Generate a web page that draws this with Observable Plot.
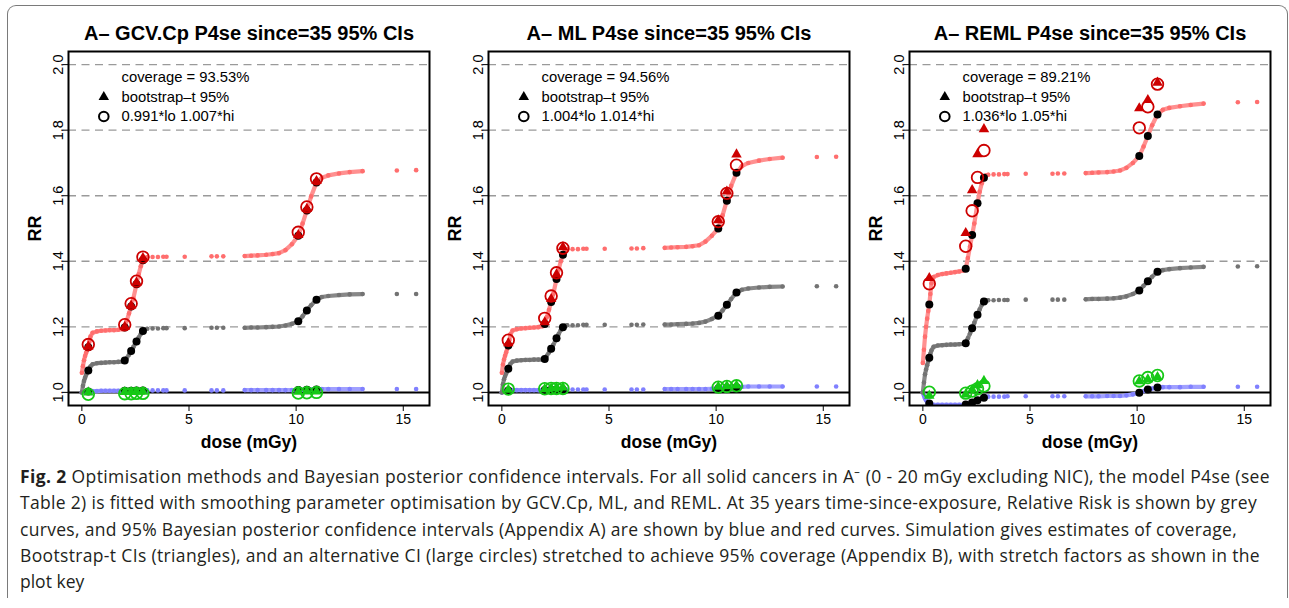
<!DOCTYPE html>
<html>
<head>
<meta charset="utf-8">
<script src="https://cdn.jsdelivr.net/npm/d3@7"></script>
<script src="https://cdn.jsdelivr.net/npm/@observablehq/plot@0.6"></script>
<style>
  html, body { margin: 0; padding: 0; background: #fff; }
  body { width: 1289px; height: 608px; overflow: hidden; position: relative; }
  #box { position: absolute; left: 7px; top: 5px; width: 1281px; height: 593px;
         border: 1px solid #7a7a7a; border-bottom: none; border-radius: 9px 9px 0 0; box-sizing: border-box; }
  .panel { position: absolute; top: 0; }
  #caption { position: absolute; left: 20px; top: 463px; font-family: "Open Sans", sans-serif;
             font-size: 17.5px; line-height: 26.3px; color: #231f20; white-space: nowrap; }
  #caption div { display: block; width: max-content; }
  #caption b { font-weight: 700; }
</style>
</head>
<body>
<div id="box"></div>
<div id="panels"></div>
<div id="caption"></div>
<script>
// Smoothing-parameter optimisation methods, one panel each
const methods = ["GCV.Cp", "ML", "REML"];
const coverage = [93.53, 94.56, 89.21];
const stretchLo = [0.991, 1.004, 1.036];
const stretchHi = [1.007, 1.014, 1.05];

// Cohort doses (mGy) at which the fitted curves are evaluated
const dose = [0, 0.05, 0.1, 0.15, 0.2, 0.25, 0.3, 0.35, 0.4, 0.5, 0.7, 0.9, 1.1, 1.3, 1.5, 1.7, 1.9, 2.0,
  2.1, 2.2, 2.3, 2.4, 2.55, 2.65, 2.75, 2.85, 2.95, 3.05, 3.3, 3.55, 3.8, 3.95, 4.8, 6.05, 6.3, 6.6,
  7.6, 7.9, 8.2, 8.6, 8.9, 9.2, 9.5, 9.8, 10.1, 10.3, 10.5, 10.7, 10.95, 11.2, 11.5, 12.0, 12.5, 13.1,
  14.7, 15.6];
// Dose ranges where the cohort is dense enough for the points to form a continuous curve
const denseRanges = [[0, 3.05], [7.6, 13.1]];
// Doses where simulated intervals were evaluated
const keyDose = [0.3, 2.0, 2.3, 2.55, 2.85, 10.1, 10.5, 10.95];

// GCV.Cp: relative risk, upper and lower 95% Bayesian limits
const rrGCV = [1.000, 1.020, 1.035, 1.045, 1.054, 1.061, 1.067, 1.073, 1.079, 1.086, 1.089, 1.090, 1.091, 1.092, 1.092, 1.093, 1.094, 1.097,
  1.105, 1.115, 1.126, 1.138, 1.155, 1.167, 1.178, 1.187, 1.192, 1.194, 1.195, 1.195, 1.196, 1.196, 1.196, 1.197, 1.197, 1.197,
  1.197, 1.198, 1.198, 1.199, 1.200, 1.201, 1.204, 1.209, 1.217, 1.232, 1.250, 1.266, 1.283, 1.291, 1.294, 1.297, 1.299, 1.300,
  1.300, 1.300];
const hiGCV = [1.060, 1.080, 1.098, 1.111, 1.121, 1.130, 1.138, 1.155, 1.170, 1.182, 1.186, 1.188, 1.189, 1.190, 1.190, 1.191, 1.193, 1.198,
  1.220, 1.241, 1.262, 1.286, 1.330, 1.360, 1.385, 1.403, 1.410, 1.412, 1.413, 1.413, 1.414, 1.414, 1.414, 1.415, 1.415, 1.415,
  1.416, 1.417, 1.418, 1.420, 1.422, 1.425, 1.434, 1.452, 1.478, 1.515, 1.555, 1.598, 1.640, 1.655, 1.662, 1.668, 1.672, 1.675,
  1.677, 1.678];
const loGCV = [1.000, 1.001, 1.002, 1.002, 1.003, 1.003, 1.003, 1.004, 1.004, 1.004, 1.004, 1.005, 1.005, 1.005, 1.005, 1.005, 1.005, 1.005,
  1.005, 1.005, 1.005, 1.006, 1.006, 1.006, 1.006, 1.006, 1.006, 1.006, 1.006, 1.006, 1.006, 1.006, 1.006, 1.006, 1.006, 1.006,
  1.007, 1.007, 1.007, 1.007, 1.007, 1.007, 1.007, 1.007, 1.007, 1.008, 1.008, 1.009, 1.009, 1.010, 1.010, 1.010, 1.010, 1.010,
  1.010, 1.010];
const bootHiGCV = [1.140, 1.200, 1.265, 1.335, 1.410, 1.480, 1.560, 1.645];
const bootLoGCV = [1.000, 1.001, 1.001, 1.002, 1.002, 1.002, 1.003, 1.003];

// ML
const rrML = [1.000, 1.025, 1.040, 1.050, 1.058, 1.066, 1.072, 1.080, 1.087, 1.094, 1.097, 1.098, 1.099, 1.099, 1.100, 1.100, 1.100, 1.102,
  1.112, 1.122, 1.133, 1.145, 1.165, 1.178, 1.190, 1.199, 1.203, 1.205, 1.205, 1.205, 1.206, 1.206, 1.206, 1.206, 1.206, 1.207,
  1.207, 1.207, 1.208, 1.209, 1.210, 1.212, 1.216, 1.224, 1.234, 1.250, 1.267, 1.285, 1.305, 1.313, 1.317, 1.320, 1.322, 1.323,
  1.324, 1.324];
const hiML = [1.060, 1.085, 1.100, 1.112, 1.122, 1.133, 1.143, 1.160, 1.177, 1.189, 1.193, 1.195, 1.196, 1.197, 1.198, 1.199, 1.202, 1.209,
  1.230, 1.252, 1.276, 1.300, 1.346, 1.375, 1.400, 1.420, 1.433, 1.437, 1.437, 1.437, 1.438, 1.438, 1.438, 1.439, 1.439, 1.440,
  1.441, 1.442, 1.443, 1.444, 1.446, 1.449, 1.460, 1.478, 1.500, 1.540, 1.585, 1.630, 1.670, 1.690, 1.700, 1.707, 1.712, 1.716,
  1.718, 1.719];
const loML = [1.000, 1.002, 1.003, 1.004, 1.005, 1.005, 1.006, 1.006, 1.007, 1.007, 1.007, 1.007, 1.007, 1.007, 1.007, 1.007, 1.007, 1.007,
  1.008, 1.008, 1.008, 1.008, 1.008, 1.008, 1.008, 1.008, 1.008, 1.008, 1.009, 1.009, 1.009, 1.009, 1.009, 1.009, 1.009, 1.009,
  1.010, 1.010, 1.010, 1.010, 1.010, 1.010, 1.010, 1.011, 1.012, 1.013, 1.014, 1.015, 1.016, 1.017, 1.018, 1.018, 1.018, 1.018,
  1.018, 1.018];
const bootHiML = [1.150, 1.214, 1.285, 1.360, 1.443, 1.525, 1.613, 1.726];
const bootLoML = [1.008, 1.010, 1.012, 1.014, 1.015, 1.017, 1.019, 1.021];

// REML
const rrREML = [1.000, 1.030, 1.055, 1.070, 1.083, 1.095, 1.106, 1.118, 1.128, 1.139, 1.143, 1.144, 1.145, 1.146, 1.146, 1.147, 1.148, 1.150,
  1.165, 1.180, 1.196, 1.212, 1.237, 1.253, 1.267, 1.277, 1.280, 1.281, 1.281, 1.282, 1.282, 1.282, 1.283, 1.283, 1.283, 1.283,
  1.284, 1.285, 1.285, 1.286, 1.287, 1.289, 1.293, 1.300, 1.311, 1.325, 1.339, 1.353, 1.368, 1.373, 1.376, 1.379, 1.381, 1.383,
  1.384, 1.385];
const hiREML = [1.090, 1.130, 1.170, 1.200, 1.225, 1.248, 1.268, 1.300, 1.333, 1.352, 1.358, 1.361, 1.363, 1.365, 1.367, 1.369, 1.372, 1.377,
  1.410, 1.445, 1.480, 1.515, 1.577, 1.612, 1.638, 1.655, 1.662, 1.664, 1.665, 1.665, 1.666, 1.666, 1.667, 1.667, 1.668, 1.668,
  1.669, 1.670, 1.671, 1.672, 1.674, 1.677, 1.685, 1.700, 1.721, 1.750, 1.782, 1.815, 1.848, 1.862, 1.868, 1.873, 1.877, 1.881,
  1.885, 1.886];
const loREML = [1.000, 0.990, 0.982, 0.976, 0.971, 0.968, 0.966, 0.964, 0.963, 0.962, 0.962, 0.962, 0.962, 0.962, 0.962, 0.962, 0.962, 0.963,
  0.965, 0.967, 0.969, 0.972, 0.976, 0.979, 0.982, 0.984, 0.986, 0.987, 0.987, 0.987, 0.987, 0.988, 0.988, 0.988, 0.988, 0.988,
  0.988, 0.988, 0.988, 0.989, 0.989, 0.989, 0.991, 0.994, 0.999, 1.004, 1.009, 1.012, 1.015, 1.016, 1.016, 1.016, 1.017, 1.017,
  1.017, 1.017];
const bootHiREML = [1.349, 1.486, 1.617, 1.727, 1.803, 1.867, 1.892, 1.945];
const bootLoREML = [0.990, 0.994, 1.008, 1.022, 1.035, 1.034, 1.040, 1.047];

const xTicks = [0, 5, 10, 15];
const yTicks = [1.0, 1.2, 1.4, 1.6, 1.8, 2.0];
const yGrid = [1.2, 1.4, 1.6, 1.8, 2.0];

const captionLabel = "Fig. 2";
const captionLines = [
  "Optimisation methods and Bayesian posterior confidence intervals. For all solid cancers in A\u207B (0 - 20 mGy excluding NIC), the model P4se (see",
  "Table 2) is fitted with smoothing parameter optimisation by GCV.Cp, ML, and REML. At 35 years time-since-exposure, Relative Risk is shown by grey",
  "curves, and 95% Bayesian posterior confidence intervals (Appendix A) are shown by blue and red curves. Simulation gives estimates of coverage,",
  "Bootstrap-t CIs (triangles), and an alternative CI (large circles) stretched to achieve 95% coverage (Appendix B), with stretch factors as shown in the",
  "plot key"
];
// Rendered width of each full caption line (px); the last, short line keeps its natural width
const captionWidths = [1250, 1237, 1217, 1240, null];

const series = [
  {rr: rrGCV, hi: hiGCV, lo: loGCV, bootHi: bootHiGCV, bootLo: bootLoGCV},
  {rr: rrML, hi: hiML, lo: loML, bootHi: bootHiML, bootLo: bootLoML},
  {rr: rrREML, hi: hiREML, lo: loREML, bootHi: bootHiREML, bootLo: bootLoREML}
];

const RED = "#cd0000";
const GREEN = "#16c816";
const curveStyle = [
  {key: "lo", line: "#a0a0ff", dot: "#8080ff"},
  {key: "rr", line: "#888888", dot: "#737373"},
  {key: "hi", line: "#ff9090", dot: "#ff6e6e"}
];

function panel(p) {
  const s = series[p];
  const rows = dose.map((d, i) => ({
    dose: d, rr: s.rr[i], hi: s.hi[i], lo: s.lo[i],
    seg: denseRanges.findIndex(([a, b]) => d >= a && d <= b)
  }));
  const dense = rows.filter(r => r.seg >= 0);
  // stretched intervals: the key's factors applied to the Bayesian limits
  const keys = keyDose.map((d, k) => {
    const r = rows.find(r => r.dose === d);
    return {...r, bootHi: s.bootHi[k], bootLo: s.bootLo[k],
            circHi: r.hi * stretchHi[p], circLo: r.lo * stretchLo[p]};
  });
  const title = `A\u2013 ${methods[p]} P4se since=35 95% CIs`;
  const legendText = [`coverage = ${coverage[p].toFixed(2)}%`, "bootstrap\u2013t 95%", `${stretchLo[p]}*lo ${stretchHi[p]}*hi`];

  return Plot.plot({
    width: 431,
    height: 460,
    marginLeft: 68,
    marginRight: 2,
    marginTop: 51,
    marginBottom: 55,
    style: {fontFamily: "'Liberation Sans', Arial, Helvetica, sans-serif", fontSize: "14px", color: "#000", background: "transparent", overflow: "visible"},
    x: {domain: [-0.624, 16.224]},
    y: {domain: [0.96, 2.04]},
    marks: [
      Plot.ruleY(yGrid, {stroke: "#9a9a9a", strokeWidth: 1.4, strokeDasharray: "8,5.5"}),
      Plot.ruleY([1], {stroke: "#000", strokeWidth: 2}),
      ...curveStyle.flatMap(c => [
        Plot.line(dense, {x: "dose", y: c.key, z: "seg", stroke: c.line, strokeWidth: 4.2, clip: true}),
        Plot.dot(rows, {x: "dose", y: c.key, r: 2.3, fill: c.dot, clip: true})
      ]),
      ...["lo", "rr", "hi"].map(k => Plot.dot(keys, {x: "dose", y: k, r: 4, fill: "#000", clip: true})),
      Plot.dot(keys, {x: "dose", y: "bootHi", symbol: "triangle", r: 3.9, fill: RED, clip: true}),
      Plot.dot(keys, {x: "dose", y: "bootLo", symbol: "triangle", r: 3.9, fill: GREEN, clip: true}),
      Plot.dot(keys, {x: "dose", y: "circHi", r: 5.8, stroke: RED, strokeWidth: 1.8, fill: "none", clip: true}),
      Plot.dot(keys, {x: "dose", y: "circLo", r: 5.8, stroke: GREEN, strokeWidth: 1.8, fill: "none", clip: true}),
      Plot.frame({stroke: "#000", strokeWidth: 2}),
      Plot.axisX({ticks: xTicks, tickSize: 6, tickPadding: 3, label: null, fontSize: 14}),
      Plot.axisY({ticks: yTicks, tickSize: 5, tickFormat: () => "", label: null}),
      Plot.text(yTicks, {y: d => d, frameAnchor: "left", text: d => d.toFixed(1), rotate: -90, dx: -6, lineAnchor: "bottom", textAnchor: "middle", fontSize: 14.5}),
      Plot.text(["RR"], {frameAnchor: "left", text: d => d, rotate: -90, dx: -28, lineAnchor: "bottom", textAnchor: "middle", fontWeight: "bold", fontSize: 18}),
      Plot.text(["dose (mGy)"], {frameAnchor: "bottom", text: d => d, dy: 42, lineAnchor: "bottom", fontWeight: "bold", fontSize: 17.5}),
      Plot.text([title], {frameAnchor: "top", text: d => d, dy: -12, lineAnchor: "bottom", fontWeight: "bold", fontSize: 20}),
      // key
      ...legendText.map((t, i) => Plot.text([t], {frameAnchor: "top-left", text: d => d, dx: 53, dy: 26 + 19.5 * i, lineAnchor: "middle", textAnchor: "start", fontSize: 14.8})),
      Plot.dot([0], {frameAnchor: "top-left", dx: 35.3, dy: 45.5, symbol: "triangle", r: 3.9, fill: "#000"}),
      Plot.dot([0], {frameAnchor: "top-left", dx: 35.3, dy: 65, r: 4.8, stroke: "#000", strokeWidth: 2, fill: "none"})
    ]
  });
}

const lefts = [0, 420, 841];
const host = document.getElementById("panels");
methods.forEach((m, p) => {
  const svg = panel(p);
  svg.classList.add("panel");
  svg.style.left = lefts[p] + "px";
  host.appendChild(svg);
});

const cap = document.getElementById("caption");
captionLines.forEach((line, i) => {
  const div = document.createElement("div");
  if (i === 0) {
    const b = document.createElement("b");
    b.textContent = captionLabel;
    div.appendChild(b);
    div.appendChild(document.createTextNode(" " + line));
  } else {
    div.textContent = line;
  }
  cap.appendChild(div);
  const target = captionWidths[i];
  if (target) {
    const natural = div.getBoundingClientRect().width;
    const n = div.textContent.length;
    div.style.letterSpacing = ((target - natural) / n).toFixed(3) + "px";
  }
});
</script>
</body>
</html>
